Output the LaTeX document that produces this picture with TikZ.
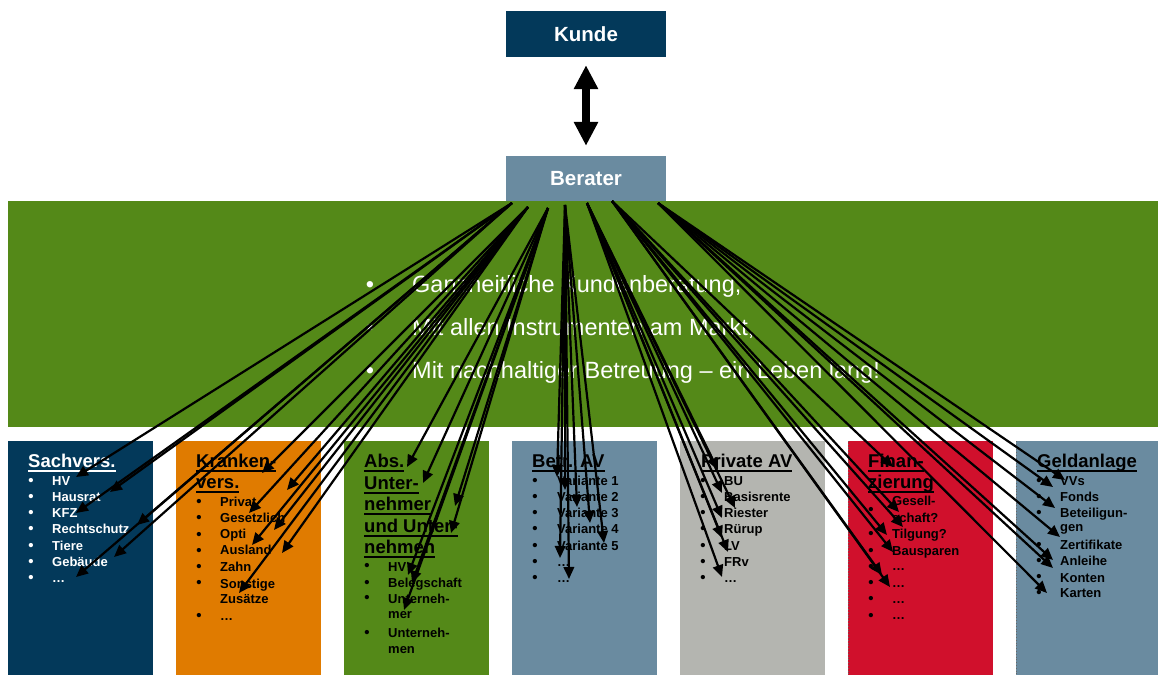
\documentclass[tikz,border=0pt]{standalone}
\usepackage{fontspec}
\setmainfont{Liberation Sans}
\usetikzlibrary{arrows.meta}
\definecolor{dunkelblau}{RGB}{3,57,90}
\definecolor{stahlblau}{RGB}{106,139,160}
\definecolor{gruen}{RGB}{84,137,24}
\definecolor{kraftorange}{RGB}{224,123,0}
\definecolor{hellgrau}{RGB}{180,181,176}
\definecolor{rot}{RGB}{208,16,44}
\def\unterstr#1{\setbox0\hbox{#1}\rlap{\vrule width\wd0 height -2.5pt depth 4.5pt}\box0}
\tikzset{
	kopf/.style={minimum width=160pt, minimum height=46pt, inner sep=0pt, text=white, font=\bfseries\fontsize{20.5}{24}\selectfont},
	spalte/.style={anchor=north west, minimum width=145pt, minimum height=234pt, inner sep=0pt},
	titel/.style={anchor=base west, inner sep=0pt, font=\bfseries\fontsize{18.5}{21}\selectfont},
	punkt/.style={anchor=base west, inner sep=0pt, font=\bfseries\fontsize{13}{15}\selectfont},
	kuller/.style={anchor=base, inner sep=0pt, font=\bfseries\fontsize{15}{15}\selectfont},
	band/.style={anchor=base west, inner sep=0pt, text=white, font=\fontsize{23.5}{27}\selectfont},
	pfeil/.style={-{Triangle[length=12pt,width=10.5pt]}, line width=2.2pt, black},
	doppelpfeil/.style={{Triangle[length=24pt,width=23pt]}-{Triangle[length=24pt,width=23pt]}, line width=8pt, black, shorten <=8pt, shorten >=10pt}
}
\begin{document}
\begin{tikzpicture}[x=1pt,y=-1pt]
		%%%%% START %%%%%
		\useasboundingbox (0,0) rectangle (1158,675);
		
		\fill[gruen] (8,201) rectangle (1158,427);
		
		\node[kopf, fill=dunkelblau] (kunde) at (586,34) {Kunde};
		\node[kopf, fill=stahlblau, minimum height=45pt] (berater) at (586,178.5) {Berater};
		\draw[doppelpfeil] (kunde) -- (berater);
		
		\foreach \t/\y [count=\i] in {{Ganzheitliche Kundenberatung,}/292, {Mit allen Instrumenten am Markt,}/335, {Mit nachhaltiger Betreuung – ein Leben lang!}/378}
		{\node[band] (satz\i) at (412,\y) {\t};
		 \node[kuller, text=white, font=\fontsize{23.5}{27}\selectfont] (satzb\i) at (370,\y) {\textbullet};}
		
		% Spalten
		\node[spalte, fill=dunkelblau] (sach) at (8,441) {};
		\node[spalte, fill=kraftorange] (kranken) at (176,441) {};
		\node[spalte, fill=gruen] (abs) at (344,441) {};
		\node[spalte, fill=stahlblau] (betr) at (512,441) {};
		\node[spalte, fill=hellgrau] (privat) at (680,441) {};
		\node[spalte, fill=rot] (finanz) at (848,441) {};
		\node[spalte, fill=stahlblau, minimum width=142pt] (geld) at (1016,441) {};
		\draw[dotted, line width=0.8pt, black!60] (finanz.north west) -- (finanz.south west);
		\draw[dotted, line width=0.8pt, black!60] (geld.north west) -- (geld.south west);
		
		% Sachvers.
		\node[titel, text=white] (sacht) at (28,467) {\unterstr{Sachvers.}};
		\foreach \t/\y [count=\i] in {HV/485, Hausrat/501, KFZ/517, Rechtschutz/533, Tiere/550, Gebäude/566, …/582}
		{\node[punkt, text=white] (sach\i) at (52,\y) {\t};
		 \node[kuller, text=white] (sachb\i) at (31,\y) {\textbullet};}
		
		% Krankenvers.
		\node[titel] (krt1) at (196,467) {\unterstr{Kranken-}};
		\node[titel] (krt2) at (196,488) {\unterstr{vers.}};
		\foreach \t/\y [count=\i] in {Privat/506, Gesetzlich/522, Opti/538, Ausland/554, Zahn/571, Sonstige/588, Zusätze/603, …/620}
		\node[punkt] (kr\i) at (220,\y) {\t};
		\foreach \y [count=\i] in {506,522,539,555,571,587,620}
		\node[kuller] (krb\i) at (199,\y) {\textbullet};
		
		% Abs. Unternehmer
		\foreach \t/\y [count=\i] in {Abs./467, Unter-/489, nehmer/510.5, und Unter-/532, nehmen/553.5}
		\node[titel] (abst\i) at (364,\y) {\unterstr{\t}};
		\foreach \t/\y [count=\i] in {HV/571, Belegschaft/587, Unterneh-/603, mer/618, Unterneh-/637, men/653}
		\node[punkt] (abs\i) at (388,\y) {\t};
		\foreach \y [count=\i] in {570,587,602,637}
		\node[kuller] (absb\i) at (367,\y) {\textbullet};
		
		% Betr. AV
		\node[titel] (betrt) at (532,467) {\unterstr{Betr. AV}};
		\foreach \t/\y [count=\i] in {Variante 1/485, Variante 2/501, Variante 3/517, Variante 4/533, Variante 5/550, …/566, …/582}
		{\node[punkt] (betr\i) at (557,\y) {\t};
		 \node[kuller] (betrb\i) at (535,\y) {\textbullet};}
		
		% Private AV
		\node[titel] (privatt) at (701,467) {\unterstr{Private AV}};
		\foreach \t/\y [count=\i] in {BU/485, Basisrente/501, Riester/517, Rürup/533, LV/550, FRv/566, …/582}
		{\node[punkt] (privat\i) at (724,\y) {\t};
		 \node[kuller] (privatb\i) at (703,\y) {\textbullet};}
		
		% Finanzierung
		\node[titel] (fint1) at (868,467) {\unterstr{Finan-}};
		\node[titel] (fint2) at (868,488) {\unterstr{zierung}};
		\foreach \t/\y [count=\i] in {Gesell-/505, schaft?/522, Tilgung?/538, Bausparen/555, …/570, …/587, …/603, …/619}
		\node[punkt] (fin\i) at (892,\y) {\t};
		\foreach \y [count=\i] in {514,538,555,571,587,603,620}
		\node[kuller] (finb\i) at (871,\y) {\textbullet};
		
		% Geldanlage
		\node[titel] (geldt) at (1037,467) {\unterstr{Geldanlage}};
		\foreach \t/\y [count=\i] in {VVs/485, Fonds/501, Beteiligun-/517, gen/531, Zertifikate/549, Anleihe/565, Konten/582, Karten/597}
		\node[punkt] (geld\i) at (1060,\y) {\t};
		\foreach \y [count=\i] in {485,501,517,549,565,581,597}
		\node[kuller] (geldb\i) at (1039,\y) {\textbullet};
		
		% Pfeile vom Berater
		\coordinate (sA) at (512,203);
		\coordinate (sB) at (528,207);
		\coordinate (sC) at (548,208);
		\coordinate (sD) at (565,205);
		\coordinate (sE) at (587,203);
		\coordinate (sF) at (612,201);
		\coordinate (sG) at (658,203);
		
		\foreach \x/\y [count=\i] in {76/477, 110/492, 76/513, 137/525, 114/557, 76/577}
		{\coordinate (eA\i) at (\x,\y); \draw[pfeil] (sA) -- (eA\i);}
		\foreach \x/\y [count=\i] in {262/473, 287/490, 249/513, 274/530, 252/545, 282/553, 239/593}
		{\coordinate (eB\i) at (\x,\y); \draw[pfeil] (sB) -- (eB\i);}
		\foreach \x/\y [count=\i] in {407/467, 423/483, 455/506, 451/533, 408/575, 412/583, 404/610}
		{\coordinate (eC\i) at (\x,\y); \draw[pfeil] (sC) -- (eC\i);}
		\foreach \x/\y [count=\i] in {557/477, 565/490, 577/507, 590/523, 604/543, 560/558, 569/579}
		{\coordinate (eD\i) at (\x,\y); \draw[pfeil] (sD) -- (eD\i);}
		\foreach \x/\y [count=\i] in {718/470, 722/493, 735/508, 722/518, 722/538, 728/552, 722/577}
		{\coordinate (eE\i) at (\x,\y); \draw[pfeil] (sE) -- (eE\i);}
		\foreach \x/\y [count=\i] in {893/467, 899/512, 903/527, 887/535, 893/552, 882/575, 890/587}
		{\coordinate (eF\i) at (\x,\y); \draw[pfeil] (sF) -- (eF\i);}
		\foreach \x/\y [count=\i] in {1065/480, 1053/487, 1055/508, 1060/537, 1053/560, 1053/568, 1047/593}
		{\coordinate (eG\i) at (\x,\y); \draw[pfeil] (sG) -- (eG\i);}
		
		%%%%% END %%%%%
	\end{tikzpicture}
\end{document}
